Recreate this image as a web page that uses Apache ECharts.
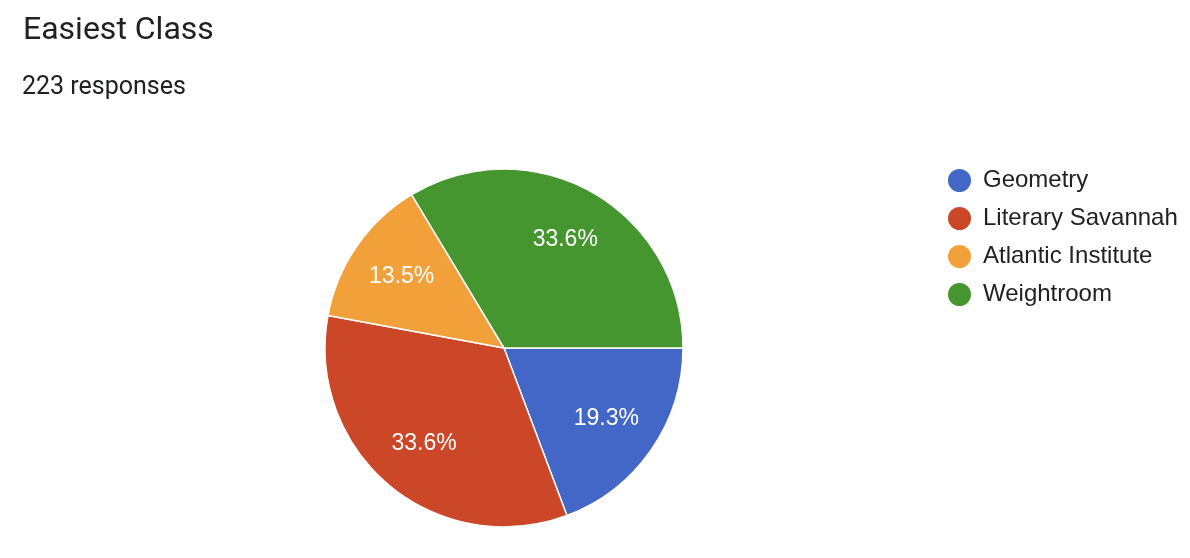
<!DOCTYPE html>
<html>
<head>
<meta charset="utf-8">
<title>Easiest Class</title>
<script src="https://cdn.jsdelivr.net/npm/echarts@6/dist/echarts.min.js"></script>
<style>
    html, body { margin: 0; padding: 0; background: #fff; }
    #chart { width: 1190px; height: 558px; }
</style>
</head>
<body>
<div id="chart"></div>
<script>
// data (223 responses)
const classes = ['Geometry', 'Literary Savannah', 'Atlantic Institute', 'Weightroom']
const counts = [43, 75, 30, 75]
const colors = ['#4267c7', '#cc4628', '#f1a03a', '#46962f']

const pieData = classes.map((name, i) => ({ name: name, value: counts[i] }))

const arial = "'Liberation Sans', Arial, sans-serif"

const chart = echarts.init(document.getElementById('chart'))

const options = {
    animation: false,
    color: colors,
    // 标题
    title: [{
        text: 'Easiest Class',
        left: 18,
        top: 10,
        textStyle: {
            fontFamily: 'Roboto',
            fontSize: 32,
            fontWeight: 'normal',
            color: '#202124'
        }
    }, {
        text: '223 responses',
        left: 17,
        top: 70,
        textStyle: {
            fontFamily: 'Roboto',
            fontSize: 25,
            fontWeight: 'normal',
            color: '#202124'
        }
    }],
    // 图例
    legend: {
        orient: 'vertical',
        left: 941,
        top: 162,
        icon: 'circle',
        itemWidth: 25,
        itemHeight: 25,
        itemGap: 11,
        textStyle: {
            fontFamily: arial,
            fontSize: 24,
            color: '#222',
            padding: [0, 0, 0, 6]
        },
        data: classes
    },
    series: [{
        // the slices themselves
        type: 'pie',
        center: [504, 348],
        radius: [0, 179],
        startAngle: 0,
        clockwise: true,
        label: { show: false },
        labelLine: { show: false },
        itemStyle: { borderColor: '#fff', borderWidth: 1.5 },
        emphasis: { disabled: true },
        data: pieData
    }, {
        // transparent ring only used to put the percentages further out
        type: 'pie',
        center: [504, 348],
        radius: [64, 179],
        startAngle: 0,
        clockwise: true,
        silent: true,
        legendHoverLink: false,
        itemStyle: { color: 'transparent' },
        label: {
            show: true,
            position: 'inside',
            color: '#fff',
            fontFamily: arial,
            fontSize: 23,
            formatter: p => p.percent.toFixed(1) + '%'
        },
        labelLine: { show: false },
        emphasis: { disabled: true },
        data: pieData
    }]
}

chart.setOption(options)
</script>
</body>
</html>
